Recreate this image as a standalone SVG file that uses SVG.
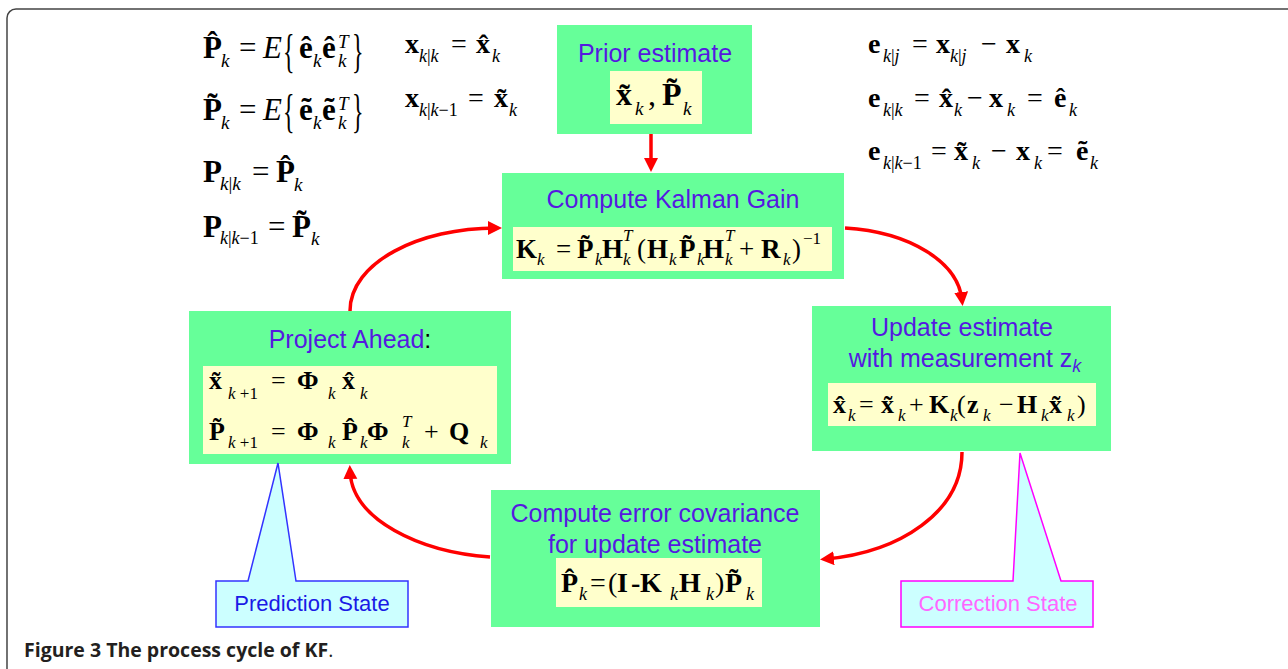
<svg xmlns="http://www.w3.org/2000/svg" width="1288" height="669" viewBox="0 0 1288 669">
<defs>
<style>
.frame{fill:#fff;stroke:#444;stroke-width:1.5}
.box{fill:#66FF99}
.eq{fill:#FFFFCC}
.title{font-family:"Liberation Sans",Arial,sans-serif;font-size:25px;fill:#5519E0;text-anchor:middle}
.m{font-family:"Liberation Serif","Times New Roman",serif;fill:#000}
.b{font-weight:bold}
.s{font-style:italic;font-weight:normal}
.n{font-weight:normal;font-style:normal}
.conn{fill:none;stroke:#FF0000;stroke-width:3.5;marker-end:url(#ah)}
.cap{font-family:"Open Sans","Liberation Sans",sans-serif;font-size:19.5px;fill:#231F20}
</style>
<marker id="ah" markerUnits="userSpaceOnUse" markerWidth="16" markerHeight="16" refX="8" refY="7" orient="auto">
<path d="M0,0 L14,7 L0,14 Z" fill="#FF0000"/>
</marker>
</defs>
<rect class="frame" x="7" y="9" width="1290" height="700" rx="9"/>

<g id="notation">
<text class="m b" font-size="31"><tspan x="203" y="58">P&#x302;</tspan><tspan class="s" font-size="19" x="221" y="67">k</tspan><tspan class="n" x="239" y="58">=</tspan><tspan class="s" x="263" y="58">E</tspan><tspan x="299" y="58">ê</tspan><tspan class="s" font-size="19" x="313" y="67">k</tspan><tspan x="322" y="58">ê</tspan><tspan class="s" font-size="19" x="338" y="48">T</tspan><tspan class="s" font-size="19" x="338" y="67">k</tspan></text>
<text class="m" font-size="30" transform="translate(283,67) scale(0.8,1.55)">{</text>
<text class="m" font-size="30" transform="translate(352,67) scale(0.8,1.55)">}</text>

<text class="m b" font-size="31"><tspan x="203" y="120">P&#x303;</tspan><tspan class="s" font-size="19" x="221" y="129">k</tspan><tspan class="n" x="239" y="120">=</tspan><tspan class="s" x="263" y="120">E</tspan><tspan x="299" y="120">ẽ</tspan><tspan class="s" font-size="19" x="313" y="129">k</tspan><tspan x="322" y="120">ẽ</tspan><tspan class="s" font-size="19" x="338" y="110">T</tspan><tspan class="s" font-size="19" x="338" y="129">k</tspan></text>
<text class="m" font-size="30" transform="translate(283,127) scale(0.8,1.55)">{</text>
<text class="m" font-size="30" transform="translate(352,127) scale(0.8,1.55)">}</text>

<text class="m b" font-size="31"><tspan x="203" y="182">P</tspan><tspan class="s" font-size="19" x="220" y="190">k<tspan class="n">|</tspan>k</tspan><tspan class="n" x="252" y="182">=</tspan><tspan x="276" y="182">P&#x302;</tspan><tspan class="s" font-size="19" x="294" y="191">k</tspan></text>

<text class="m b" font-size="31"><tspan x="203" y="237">P</tspan><tspan class="s" font-size="18" x="220" y="244">k<tspan class="n">|</tspan>k<tspan class="n">−1</tspan></tspan><tspan class="n" x="268" y="237">=</tspan><tspan x="292" y="237">P&#x303;</tspan><tspan class="s" font-size="19" x="311" y="245">k</tspan></text>

<text class="m b" font-size="28"><tspan x="405" y="53">x</tspan><tspan class="s" font-size="18" x="419" y="62">k<tspan class="n">|</tspan>k</tspan><tspan class="n" x="451" y="53">=</tspan><tspan x="476" y="53">x&#x302;</tspan><tspan class="s" font-size="18" x="492" y="62">k</tspan></text>
<text class="m b" font-size="28"><tspan x="405" y="107">x</tspan><tspan class="s" font-size="18" x="419" y="116">k<tspan class="n">|</tspan>k<tspan class="n">−1</tspan></tspan><tspan class="n" x="468" y="107">=</tspan><tspan x="494" y="107">x&#x303;</tspan><tspan class="s" font-size="18" x="509" y="116">k</tspan></text>

<text class="m b" font-size="28"><tspan x="868" y="53">e</tspan><tspan class="s" font-size="18" x="883" y="62">k<tspan class="n">|</tspan>j</tspan><tspan class="n" x="912" y="53">=</tspan><tspan x="936" y="53">x</tspan><tspan class="s" font-size="18" x="950" y="62">k<tspan class="n">|</tspan>j</tspan><tspan class="n" x="981" y="53">−</tspan><tspan x="1006" y="53">x</tspan><tspan class="s" font-size="18" x="1024" y="62">k</tspan></text>
<text class="m b" font-size="28"><tspan x="868" y="107">e</tspan><tspan class="s" font-size="18" x="883" y="116">k<tspan class="n">|</tspan>k</tspan><tspan class="n" x="914" y="107">=</tspan><tspan x="939" y="107">x&#x302;</tspan><tspan class="s" font-size="18" x="954" y="116">k</tspan><tspan class="n" x="967" y="107">−</tspan><tspan x="989" y="107">x</tspan><tspan class="s" font-size="18" x="1007" y="116">k</tspan><tspan class="n" x="1027" y="107">=</tspan><tspan x="1054" y="107">ê</tspan><tspan class="s" font-size="18" x="1069" y="116">k</tspan></text>
<text class="m b" font-size="28"><tspan x="868" y="160">e</tspan><tspan class="s" font-size="18" x="883" y="169">k<tspan class="n">|</tspan>k<tspan class="n">−1</tspan></tspan><tspan class="n" x="931" y="160">=</tspan><tspan x="954" y="160">x&#x303;</tspan><tspan class="s" font-size="18" x="972" y="169">k</tspan><tspan class="n" x="991" y="160">−</tspan><tspan x="1016" y="160">x</tspan><tspan class="s" font-size="18" x="1034" y="169">k</tspan><tspan class="n" x="1047" y="160">=</tspan><tspan x="1076" y="160">ẽ</tspan><tspan class="s" font-size="18" x="1090" y="169">k</tspan></text>
</g>

<g id="connectors">
<path class="conn" d="M651,134 L651,166"/>
<path class="conn" d="M845,228 C910,232 958,262 962,300"/>
<path class="conn" d="M962,452 C962,512 900,552 826,559"/>
<path class="conn" d="M490,557 C420,552 352,520 350,471"/>
<path class="conn" d="M350,311 C350,262 420,228 496,228"/>
</g>

<g id="prior">
<rect class="box" x="557" y="25" width="195" height="109"/>
<rect class="eq" x="610" y="71" width="92" height="53"/>
<text class="title" x="655" y="62">Prior estimate</text>
<text class="m b" font-size="32"><tspan x="616" y="105">x&#x303;</tspan><tspan class="s" font-size="19" x="635" y="115">k</tspan><tspan class="n" x="648" y="105">,</tspan><tspan x="662" y="105">P&#x303;</tspan><tspan class="s" font-size="19" x="683" y="115">k</tspan></text>
</g>

<g id="kalman">
<rect class="box" x="502" y="173" width="342" height="106"/>
<rect class="eq" x="513" y="227" width="319" height="44"/>
<text class="title" x="673" y="208">Compute Kalman Gain</text>
<text class="m b" font-size="27"><tspan x="516" y="258">K</tspan><tspan class="s" font-size="17" x="537" y="265">k</tspan><tspan class="n" x="556" y="258">=</tspan><tspan x="577" y="258">P&#x303;</tspan><tspan class="s" font-size="17" x="595" y="265">k</tspan><tspan x="602" y="258">H</tspan><tspan class="s" font-size="17" x="623" y="241">T</tspan><tspan class="s" font-size="17" x="623" y="265">k</tspan><tspan class="n" x="637" y="258">(</tspan><tspan x="647" y="258">H</tspan><tspan class="s" font-size="17" x="669" y="265">k</tspan><tspan x="679" y="258">P&#x303;</tspan><tspan class="s" font-size="17" x="697" y="265">k</tspan><tspan x="703" y="258">H</tspan><tspan class="s" font-size="17" x="725" y="241">T</tspan><tspan class="s" font-size="17" x="725" y="265">k</tspan><tspan class="n" x="739" y="258">+</tspan><tspan x="761" y="258">R</tspan><tspan class="s" font-size="17" x="783" y="265">k</tspan><tspan class="n" x="792" y="258">)</tspan><tspan class="n" font-size="17" x="803" y="244">−1</tspan></text>
</g>

<g id="update">
<rect class="box" x="812" y="306" width="299" height="145"/>
<rect class="eq" x="828" y="383" width="268" height="43"/>
<text class="title" x="962" y="336">Update estimate</text>
<text class="title" x="965" y="367">with measurement z<tspan font-style="italic" font-size="18" dy="5">k</tspan></text>
<text class="m b" font-size="26"><tspan x="833" y="413">x&#x302;</tspan><tspan class="s" font-size="17" x="848" y="421">k</tspan><tspan class="n" x="859" y="413">=</tspan><tspan x="881" y="413">x&#x303;</tspan><tspan class="s" font-size="17" x="898" y="421">k</tspan><tspan class="n" x="909" y="413">+</tspan><tspan x="929" y="413">K</tspan><tspan class="s" font-size="17" x="950" y="421">k</tspan><tspan class="n" x="957" y="413">(</tspan><tspan x="967" y="413">z</tspan><tspan class="s" font-size="17" x="983" y="421">k</tspan><tspan class="n" x="999" y="413">−</tspan><tspan x="1017" y="413">H</tspan><tspan class="s" font-size="17" x="1041" y="421">k</tspan><tspan x="1049" y="413">x&#x303;</tspan><tspan class="s" font-size="17" x="1067" y="421">k</tspan><tspan class="n" x="1077" y="413">)</tspan></text>
</g>

<g id="errcov">
<rect class="box" x="491" y="490" width="329" height="137"/>
<rect class="eq" x="556" y="558" width="206" height="49"/>
<text class="title" x="655" y="522">Compute error covariance</text>
<text class="title" x="655" y="553">for update estimate</text>
<text class="m b" font-size="28"><tspan x="561" y="592">P&#x302;</tspan><tspan class="s" font-size="18" x="579" y="600">k</tspan><tspan class="n" x="590" y="592">=</tspan><tspan class="n" x="608" y="592">(</tspan><tspan x="617" y="592">I</tspan><tspan x="631" y="592">-</tspan><tspan x="640" y="592">K</tspan><tspan class="s" font-size="18" x="670" y="600">k</tspan><tspan x="679" y="592">H</tspan><tspan class="s" font-size="18" x="706" y="600">k</tspan><tspan class="n" x="715" y="592">)</tspan><tspan x="725" y="592">P&#x303;</tspan><tspan class="s" font-size="18" x="746" y="600">k</tspan></text>
</g>

<g id="project">
<rect class="box" x="189" y="311" width="322" height="153"/>
<rect class="eq" x="203" y="366" width="294" height="88"/>
<text class="title" x="350" y="348">Project Ahead<tspan fill="#000">:</tspan></text>
<text class="m b" font-size="26"><tspan x="209" y="389">x&#x303;</tspan><tspan class="s" font-size="17" x="228" y="399">k <tspan class="n">+1</tspan></tspan><tspan class="n" x="271" y="389">=</tspan><tspan x="297" y="389">Φ</tspan><tspan class="s" font-size="17" x="328" y="399">k</tspan><tspan x="342" y="389">x&#x302;</tspan><tspan class="s" font-size="17" x="360" y="399">k</tspan></text>
<text class="m b" font-size="26"><tspan x="209" y="440">P&#x303;</tspan><tspan class="s" font-size="17" x="228" y="448">k <tspan class="n">+1</tspan></tspan><tspan class="n" x="271" y="440">=</tspan><tspan x="297" y="440">Φ</tspan><tspan class="s" font-size="17" x="328" y="448">k</tspan><tspan x="342" y="440">P&#x302;</tspan><tspan class="s" font-size="17" x="360" y="448">k</tspan><tspan x="367" y="440">Φ</tspan><tspan class="s" font-size="17" x="402" y="427">T</tspan><tspan class="s" font-size="17" x="402" y="448">k</tspan><tspan class="n" x="424" y="440">+</tspan><tspan x="449" y="440">Q</tspan><tspan class="s" font-size="17" x="480" y="448">k</tspan></text>
</g>

<g id="prediction-state">
<path d="M216,581 L248,581 L278,463 L296,581 L408,581 L408,627 L216,627 Z" fill="#CCFFFF" stroke="#3333FF" stroke-width="1.5"/>
<text x="312" y="611" font-family="Liberation Sans,Arial,sans-serif" font-size="22" fill="#1A1AE6" text-anchor="middle">Prediction State</text>
</g>

<g id="correction-state">
<path d="M901,581 L1013,581 L1020,453 L1061,581 L1093,581 L1093,627 L901,627 Z" fill="#CCFFFF" stroke="#FF00FF" stroke-width="1.5"/>
<text x="998" y="611" font-family="Liberation Sans,Arial,sans-serif" font-size="22" fill="#FF66FF" text-anchor="middle">Correction State</text>
</g>

<text class="cap" x="24" y="657"><tspan font-weight="bold">Figure 3 The process cycle of KF</tspan>.</text>
</svg>
